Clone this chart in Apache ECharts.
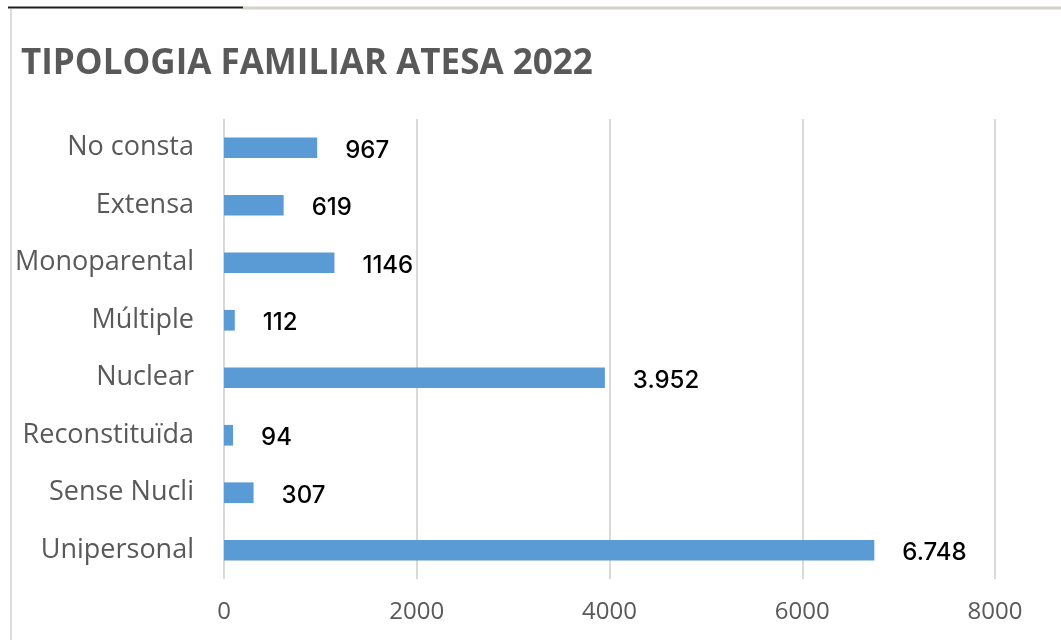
<!DOCTYPE html>
<html>
<head>
<meta charset="utf-8">
<script src="https://cdn.jsdelivr.net/npm/echarts@6/dist/echarts.min.js"></script>
<style>
  html, body { margin: 0; padding: 0; background: #fff; }
  #chart { width: 1061px; height: 640px; }
</style>
</head>
<body>
<div id="chart"></div>
<script>
// categories, top to bottom as drawn
const categories = ['No consta', 'Extensa', 'Monoparental', 'Múltiple', 'Nuclear', 'Reconstituïda', 'Sense Nucli', 'Unipersonal'];
const values = [967, 619, 1146, 112, 3952, 94, 307, 6748];
// data label text as printed on the chart
const valueLabels = ['967', '619', '1146', '112', '3.952', '94', '307', '6.748'];
const xTicks = [0, 2000, 4000, 6000, 8000];

const chart = echarts.init(document.getElementById('chart'), null, { renderer: 'canvas' });

const seriesData = values.map((v, i) => ({ value: v, labelText: valueLabels[i] }));

chart.setOption({
  animation: false,
  backgroundColor: '#fff',
  title: {
    text: 'TIPOLOGIA FAMILIAR ATESA 2022',
    left: 16,
    top: 42,
    textStyle: { fontFamily: 'Open Sans', fontWeight: 'bold', fontSize: 35, color: '#595959' }
  },
  // frame edges of the original screenshot
  graphic: [
    { type: 'line', shape: { x1: 8, y1: 7.5, x2: 243, y2: 7.5 }, style: { stroke: '#1e1e1e', lineWidth: 2 } },
    { type: 'line', shape: { x1: 243, y1: 8, x2: 1061, y2: 8 }, style: { stroke: '#d4d0ca', lineWidth: 3 } },
    { type: 'line', shape: { x1: 11, y1: 9, x2: 11, y2: 640 }, style: { stroke: '#dcdcdc', lineWidth: 2 } }
  ],
  grid: { left: 224, right: 66, top: 119, bottom: 61, containLabel: false },
  xAxis: {
    type: 'value',
    min: xTicks[0],
    max: xTicks[xTicks.length - 1],
    interval: 2000,
    axisLine: { show: false },
    axisTick: { show: false },
    axisLabel: { color: '#595959', fontFamily: 'Open Sans', fontSize: 24, margin: 21, formatter: (v) => String(v) },
    splitLine: { show: true, lineStyle: { color: '#d9d9d9', width: 2 } }
  },
  yAxis: {
    type: 'category',
    inverse: true,
    data: categories,
    axisLine: { show: false },
    axisTick: { show: false },
    axisLabel: { color: '#595959', fontFamily: 'Open Sans', fontSize: 27, margin: 30, padding: [6, 0, 0, 0] }
  },
  series: [{
    type: 'bar',
    data: seriesData,
    barWidth: '36%',
    itemStyle: { color: '#5b9bd5' },
    label: {
      show: true,
      position: 'right',
      distance: 28,
      offset: [0, 3],
      color: '#000',
      fontFamily: 'Inter',
      fontWeight: 500,
      fontSize: 24,
      formatter: (p) => p.data.labelText
    }
  }]
});
</script>
</body>
</html>
